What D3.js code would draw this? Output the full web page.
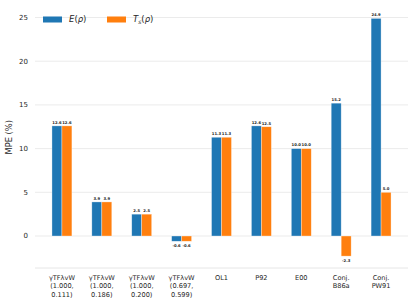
<!DOCTYPE html>
<html>
<head>
<meta charset="utf-8">
<script src="https://cdn.jsdelivr.net/npm/d3@7"></script>
<style>
  body { margin: 0; background: #fff; }
  svg text { font-family: "DejaVu Sans", sans-serif; }
</style>
</head>
<body>
<svg id="chart" width="415" height="307"></svg>
<script>
// chart data
var categories = [
  ["γTFλvW", "(1.000,", "0.111)"],
  ["γTFλvW", "(1.000,", "0.186)"],
  ["γTFλvW", "(1.000,", "0.200)"],
  ["γTFλvW", "(0.697,", "0.599)"],
  ["OL1"],
  ["P92"],
  ["E00"],
  ["Conj.", "B86a"],
  ["Conj.", "PW91"]
];
var valuesE = [12.6, 3.9, 2.5, -0.6, 11.3, 12.6, 10.0, 15.2, 24.9];
var valuesTs = [12.6, 3.9, 2.5, -0.6, 11.3, 12.5, 10.0, -2.3, 5.0];
var yTicks = [0, 5, 10, 15, 20, 25];
var colors = ["#1f77b4", "#ff7f0e"];

var svg = d3.select("#chart");
var plotLeft = 35, plotRight = 408, plotTop = 6.5, plotBottom = 268;
var barW = 0.25;

var x = d3.scaleLinear().domain([-0.675, 8.675]).range([plotLeft, plotRight]);
var y = d3.scaleLinear().domain([-3.66, 26.26]).range([plotBottom, plotTop]);

// grid
svg.append("g").selectAll("line")
  .data(yTicks)
  .enter().append("line")
  .attr("x1", plotLeft).attr("x2", plotRight)
  .attr("y1", function(d){ return y(d); })
  .attr("y2", function(d){ return y(d); })
  .attr("stroke", "#ebebeb")
  .attr("stroke-width", 1);

svg.append("line")
  .attr("x1", plotLeft).attr("x2", plotRight)
  .attr("y1", plotBottom).attr("y2", plotBottom)
  .attr("stroke", "#e6e6e6").attr("stroke-width", 1);

// y tick labels
svg.append("g").selectAll("text")
  .data(yTicks)
  .enter().append("text")
  .attr("x", 28)
  .attr("y", function(d){ return y(d); })
  .attr("dy", "0.35em")
  .attr("text-anchor", "end")
  .attr("font-size", 7)
  .attr("fill", "#262626")
  .text(function(d){ return d; });

svg.append("text")
  .attr("transform", "translate(9.5," + ((plotTop + plotBottom) / 2) + ") rotate(-90)")
  .attr("text-anchor", "middle")
  .attr("dy", "0.35em")
  .attr("font-size", 8.3)
  .attr("fill", "#262626")
  .text("MPE (%)");

// bars
var series = [valuesE, valuesTs];
series.forEach(function(vals, s){
  var off = s == 0 ? -barW : 0;
  svg.append("g").selectAll("rect")
    .data(vals)
    .enter().append("rect")
    .attr("x", function(d, i){ return x(i + off); })
    .attr("width", x(barW) - x(0))
    .attr("y", function(d){ return y(Math.max(d, 0)); })
    .attr("height", function(d){ return Math.abs(y(d) - y(0)); })
    .attr("fill", colors[s])
    .attr("stroke", "#ffffff")
    .attr("stroke-opacity", 0.55)
    .attr("stroke-width", 0.6);

  svg.append("g").selectAll("text")
    .data(vals)
    .enter().append("text")
    .attr("x", function(d, i){ return x(i + off + barW / 2); })
    .attr("y", function(d){ return d >= 0 ? y(d) - 2.2 : y(d) + 5.5; })
    .attr("text-anchor", "middle")
    .attr("font-size", 3.8)
    .attr("font-weight", "bold")
    .attr("fill", "#262626")
    .text(function(d){ return d.toFixed(1); });
});

// x tick labels
var xl = svg.append("g").selectAll("text")
  .data(categories)
  .enter().append("text")
  .attr("x", function(d, i){ return x(i); })
  .attr("y", 280)
  .attr("text-anchor", "middle")
  .attr("font-size", 6.6)
  .attr("fill", "#262626");
xl.selectAll("tspan")
  .data(function(d){ return d; })
  .enter().append("tspan")
  .attr("x", function(){ return d3.select(this.parentNode).attr("x"); })
  .attr("dy", function(d, i){ return i == 0 ? 0 : 8.3; })
  .text(function(d){ return d; });

// legend
var lg = svg.append("g");
[0, 1].forEach(function(s){
  var lx = s == 0 ? 43 : 107;
  lg.append("rect")
    .attr("x", lx).attr("y", 16.5)
    .attr("width", 19).attr("height", 6)
    .attr("fill", colors[s]);
  var t = lg.append("text")
    .attr("x", lx + 26).attr("y", 19.5)
    .attr("dy", "0.35em")
    .attr("font-size", 8.5)
    .attr("fill", "#262626");
  if(s == 0){
    t.append("tspan").attr("font-style", "italic").text("E");
    t.append("tspan").text("(");
    t.append("tspan").attr("font-style", "italic").text("ρ");
    t.append("tspan").text(")");
  }else{
    t.append("tspan").attr("font-style", "italic").text("T");
    t.append("tspan").attr("font-style", "italic").attr("font-size", 6).attr("dy", 1.5).text("s");
    t.append("tspan").attr("dy", -1.5).text("(");
    t.append("tspan").attr("font-style", "italic").text("ρ");
    t.append("tspan").text(")");
  }
});
</script>
</body>
</html>
